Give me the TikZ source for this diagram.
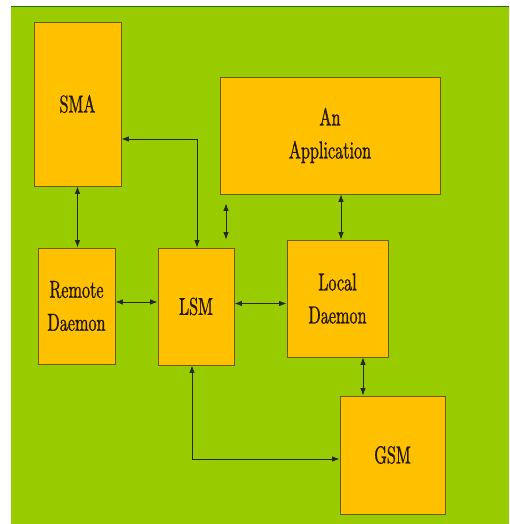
\documentclass[tikz,border=0pt]{standalone}
\usepackage{fontspec}
\newfontfamily\boxfont{lmroman10-regular.otf}[FakeStretch=0.66, FakeBold=1.0]
\usepackage{tikz}
\usetikzlibrary{arrows.meta, calc, positioning}

\definecolor{slidegreen}{HTML}{99CC00}
\definecolor{topline}{HTML}{1F6F1F}
\definecolor{boxfill}{HTML}{FFC000}
\definecolor{boxline}{HTML}{6B5A10}
\definecolor{boxtext}{HTML}{221800}

\tikzset{
    block/.style={draw=boxline, fill=boxfill, line width=0.9pt, inner sep=0pt,
        align=center, text=boxtext, font=\boxfont\fontsize{24.5}{33}\selectfont},
    link/.style={<->, line width=0.8pt, draw=black!85}
}

\begin{document}
\begin{tikzpicture}[x=1pt, y=-1pt, >={Latex[length=7.5pt,width=5.5pt]}]
                \useasboundingbox (0,0) rectangle (509,524);
                \fill[white] (0,0) rectangle (509,524);
                \fill[slidegreen] (11,7) rectangle (509,524);
                \draw[topline, line width=1.5pt] (11,6.5) -- (509,6.5);

                \node[block, minimum width=87pt, minimum height=164pt] (SMA) at (77.5,104) {SMA};
                \node[block, minimum width=220pt, minimum height=117pt] (App) at (330,135.5) {An\\Application};

                \node[block, minimum width=77pt, minimum height=116pt] (Remote) at (76.5,306) {Remote\\Daemon};
                \node[block, minimum width=76pt, minimum height=117pt] (LSM) at (196,306.5) {LSM};
                \node[block, minimum width=101pt, minimum height=117pt] (Local) at (337.5,298.5) {Local\\Daemon};

                \node[block, minimum width=105pt, minimum height=118pt] (GSM) at (392.5,455) {GSM};

                % Connections: SMA side
                \draw[link] (SMA.south) -- (Remote.north -| SMA.south);
                \draw[link] ([yshift=-35pt]SMA.east) -| ([xshift=1pt]LSM.north);

                % Connections: LSM row
                \draw[link] ([yshift=4pt]Remote.east) -- ([yshift=4pt]Remote.east -| LSM.west);
                \draw[link] ([yshift=3pt]LSM.east) -- ([yshift=3pt]LSM.east -| Local.west);
                \draw[link, shorten <=8pt, shorten >=9pt] ([xshift=30pt]LSM.north) -- ([xshift=30pt]LSM.north |- App.south);

                % Connections: local daemon
                \draw[link] ([xshift=3.5pt]Local.north) -- ([xshift=3.5pt]Local.north |- App.south);
                \draw[link] ([xshift=-29.5pt]GSM.north) -- ([xshift=-29.5pt]GSM.north |- Local.south);

                % LSM down to GSM
                \draw[link] ([xshift=-4pt]LSM.south) |- ([yshift=-4pt]GSM.west);
            \end{tikzpicture}
\end{document}
